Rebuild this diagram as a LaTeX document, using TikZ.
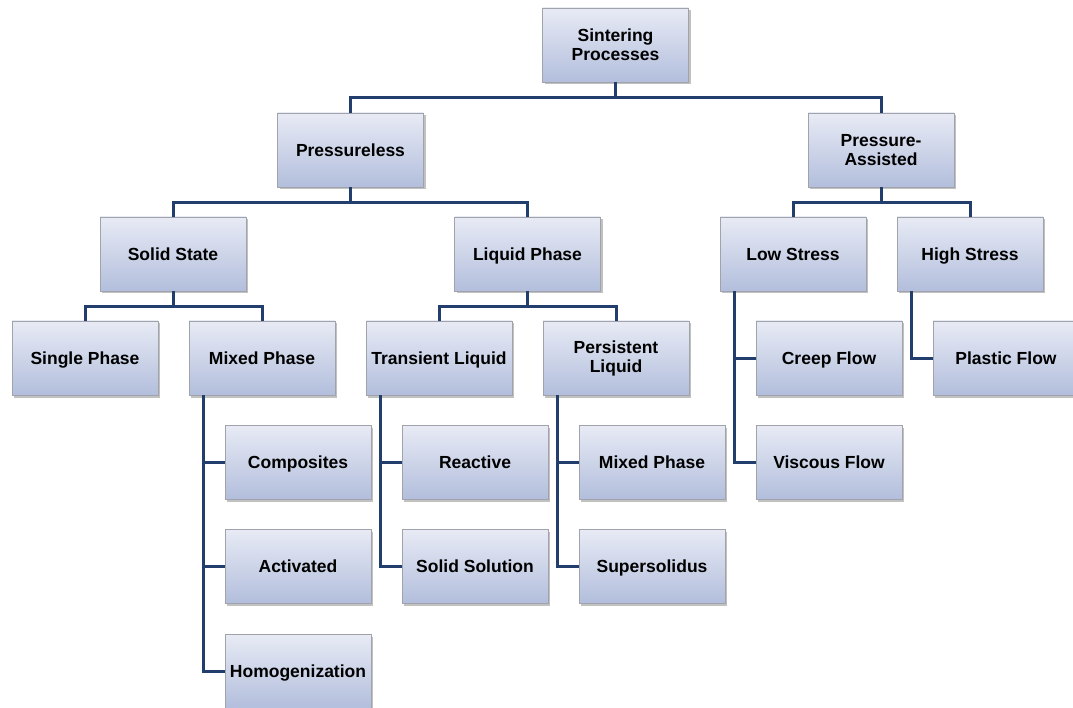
\documentclass[tikz,border=0pt]{standalone}
\usepackage{fontspec}
\setmainfont{Liberation Sans}
\usetikzlibrary{shadows}
\definecolor{conncol}{RGB}{33,62,108}
\definecolor{boxtop}{RGB}{232,235,245}
\definecolor{boxbot}{RGB}{178,190,220}
\definecolor{boxline}{RGB}{160,163,170}
\tikzset{
  box/.style={draw=boxline, line width=0.8pt, top color=boxtop, bottom color=boxbot,
    minimum width=146pt, minimum height=74pt, inner sep=2pt, align=center,
    font=\fontsize{17.5}{19}\selectfont\bfseries,
    drop shadow={shadow xshift=2pt, shadow yshift=-2.5pt, opacity=0.35, fill=black!70}},
  onebox/.style={box, text height=14.6pt, text depth=1.7pt},
  conn/.style={draw=conncol, line width=3pt}
}
\begin{document}
\begin{tikzpicture}[x=1pt,y=-1pt]
\useasboundingbox (0,0) rectangle (1073,708);
\clip (0,0) rectangle (1073,708);
\node[box] (sp) at (615.5,45) {Sintering\\Processes};
\node[onebox] (pl) at (350.5,150) {Pressureless};
\node[box] (pa) at (881,150) {Pressure-\\Assisted};
\node[onebox] (ss) at (173,254) {Solid State};
\node[onebox] (lp) at (527.5,254) {Liquid Phase};
\node[onebox] (ls) at (793,254) {Low Stress};
\node[onebox] (hs) at (970,254) {High Stress};
\node[onebox] (sph) at (85,358) {Single Phase};
\node[onebox] (mp) at (262,358) {Mixed Phase};
\node[onebox] (tl) at (439,358) {Transient Liquid};
\node[box] (pli) at (616,358) {Persistent\\Liquid};
\node[onebox] (cf) at (829,358) {Creep Flow};
\node[onebox] (pf) at (1006,358) {Plastic Flow};
\node[onebox] (co) at (298,462) {Composites};
\node[onebox] (ac) at (298,566) {Activated};
\node[onebox] (ho) at (298,671) {Homogenization};
\node[onebox] (re) at (475,462) {Reactive};
\node[onebox] (so) at (475,566) {Solid Solution};
\node[onebox] (mp2) at (652,462) {Mixed Phase};
\node[onebox] (su) at (652,566) {Supersolidus};
\node[onebox] (vf) at (829,462) {Viscous Flow};
% tree connectors
\draw[conn] (sp.south) -- ++(0,15) -| (pl.north);
\draw[conn] (sp.south) -- ++(0,15) -| (pa.north);
\draw[conn] (pl.south) -- ++(0,15) -| (ss.north);
\draw[conn] (pl.south) -- ++(0,15) -| (lp.north);
\draw[conn] (pa.south) -- ++(0,15) -| (ls.north);
\draw[conn] (pa.south) -- ++(0,15) -| (hs.north);
\draw[conn] (ss.south) -- ++(0,15) -| (sph.north);
\draw[conn] (ss.south) -- ++(0,15) -| (mp.north);
\draw[conn] (lp.south) -- ++(0,15) -| (tl.north);
\draw[conn] (lp.south) -- ++(0,15) -| (pli.north);
% side connectors
\draw[conn] ([xshift=15pt]mp.south west) |- (co.west);
\draw[conn] ([xshift=15pt]mp.south west) |- (ac.west);
\draw[conn] ([xshift=15pt]mp.south west) |- (ho.west);
\draw[conn] ([xshift=15pt]tl.south west) |- (re.west);
\draw[conn] ([xshift=15pt]tl.south west) |- (so.west);
\draw[conn] ([xshift=15pt]pli.south west) |- (mp2.west);
\draw[conn] ([xshift=15pt]pli.south west) |- (su.west);
\draw[conn] ([xshift=15pt]ls.south west) |- (cf.west);
\draw[conn] ([xshift=15pt]ls.south west) |- (vf.west);
\draw[conn] ([xshift=15pt]hs.south west) |- (pf.west);
\end{tikzpicture}
\end{document}
